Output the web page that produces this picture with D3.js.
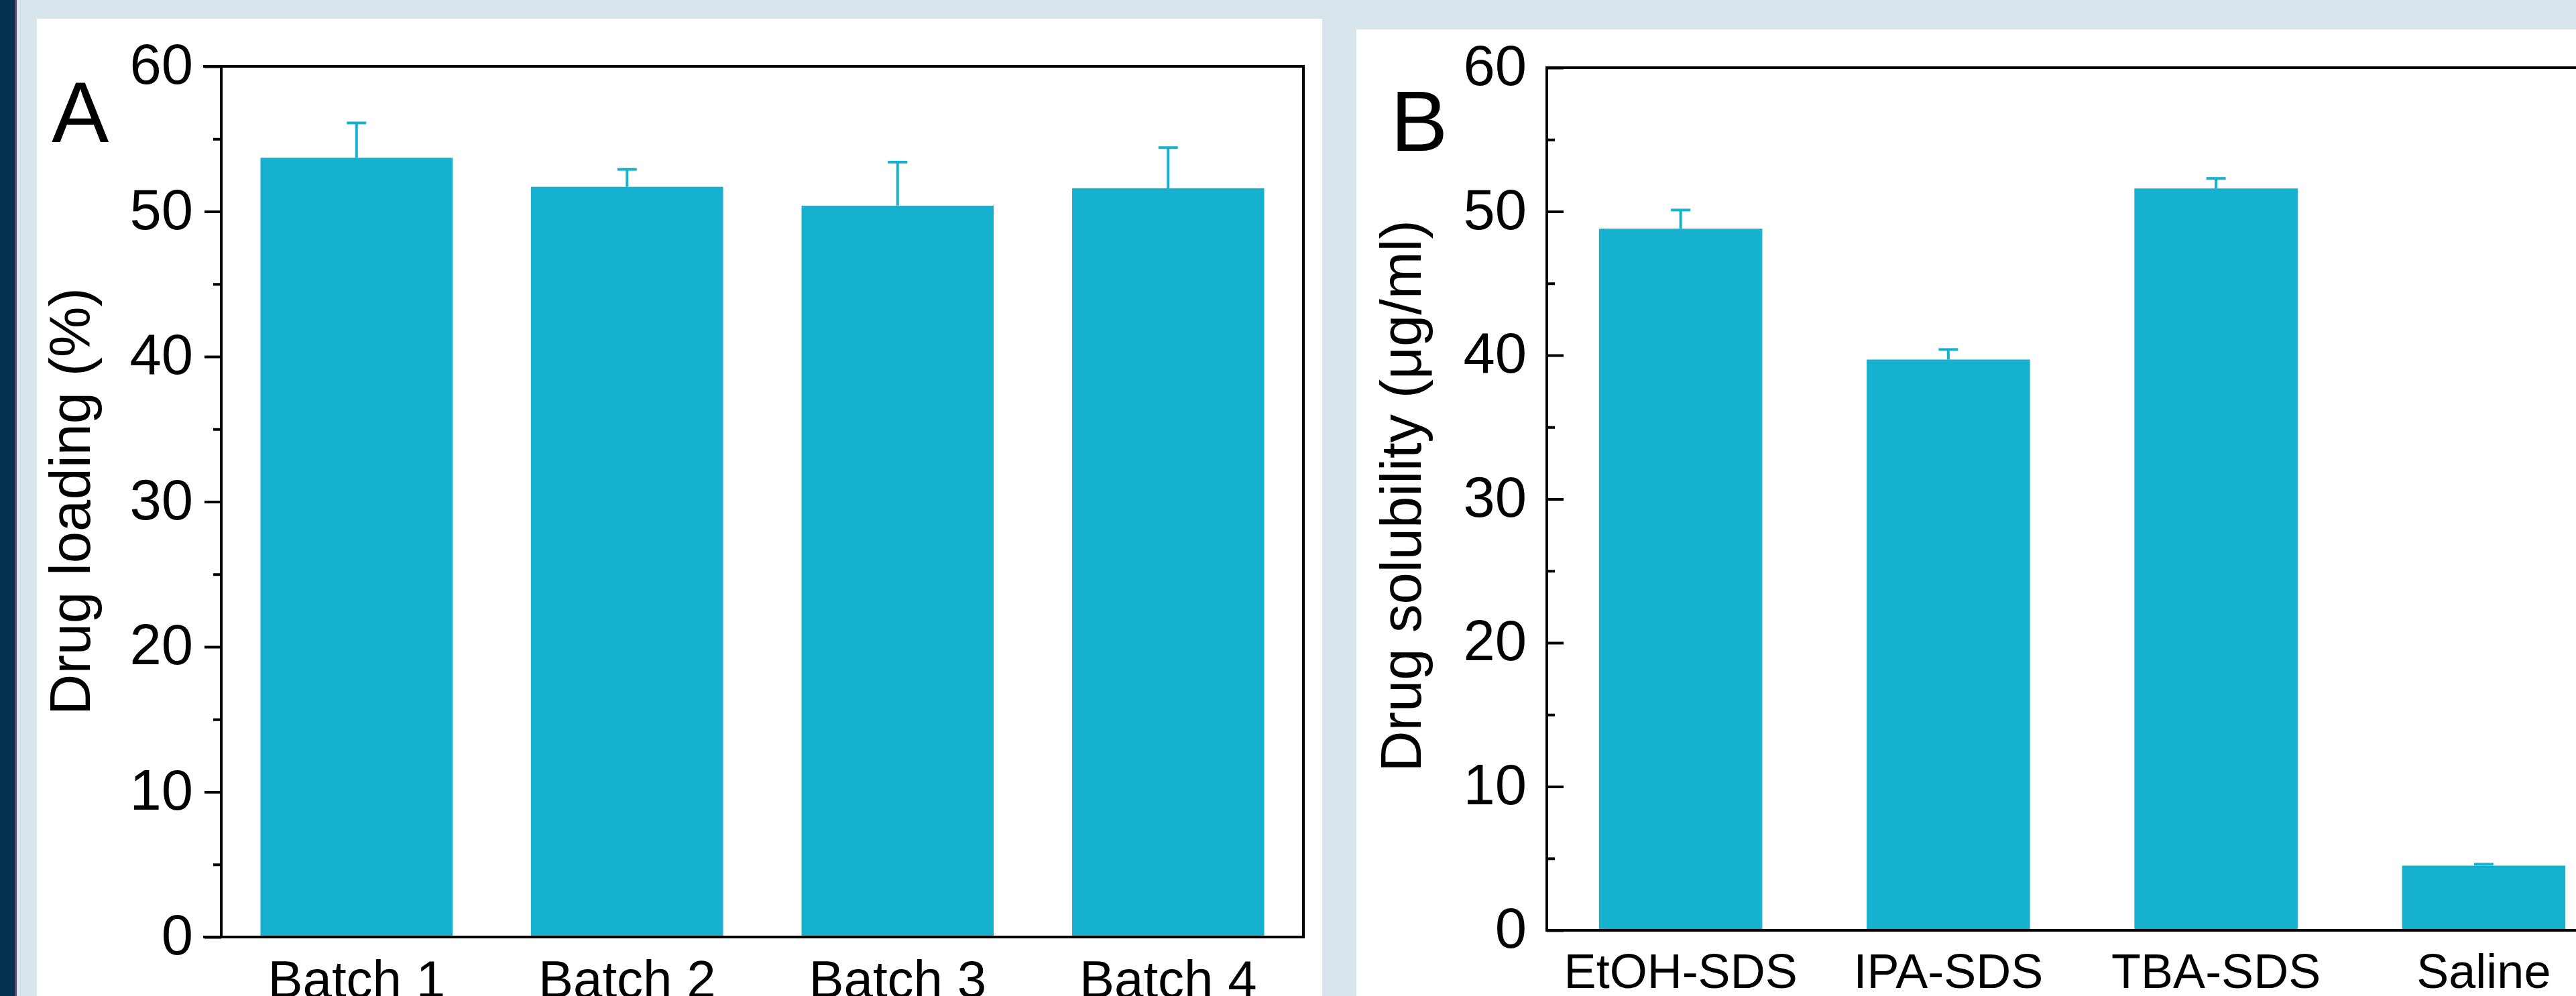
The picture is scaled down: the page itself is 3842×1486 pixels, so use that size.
<!DOCTYPE html>
<html>
<head>
<meta charset="utf-8">
<script src="https://cdn.jsdelivr.net/npm/d3@7"></script>
<style>
  html, body { margin: 0; padding: 0; background: #d9e5ec; overflow: hidden; }
  svg { display: block; }
  text { font-family: "Liberation Sans", Arial, sans-serif; fill: #000; }
</style>
</head>
<body>
<div id="container"></div>
<script>
var WIDTH = 3842,
    HEIGHT = 1486,
    BAR_COLOR = '#17b1d0';

// Panel A data
var batchLabels = ['Batch 1', 'Batch 2', 'Batch 3', 'Batch 4'];
var loadingMeans = [53.7, 51.7, 50.4, 51.6];
var loadingErrors = [2.4, 1.2, 3.0, 2.8];

// Panel B data
var solventLabels = ['EtOH-SDS', 'IPA-SDS', 'TBA-SDS', 'Saline'];
var solubilityMeans = [48.8, 39.7, 51.6, 4.5];
var solubilityErrors = [1.3, 0.7, 0.7, 0.1];

// Axis ticks (shared)
var majorTicks = [0, 10, 20, 30, 40, 50, 60];
var minorTicks = [5, 15, 25, 35, 45, 55];

var svg = d3.select('#container').append('svg')
    .attr('width', WIDTH)
    .attr('height', HEIGHT);

// page background pieces
svg.append('rect').attr('x', 0).attr('y', 0).attr('width', WIDTH).attr('height', HEIGHT).attr('fill', '#d9e5ec');
svg.append('rect').attr('x', 0).attr('y', 0).attr('width', 22).attr('height', HEIGHT).attr('fill', '#06304f');
svg.append('rect').attr('x', 22).attr('y', 0).attr('width', 3).attr('height', HEIGHT).attr('fill', '#5b4f78');
svg.append('rect').attr('x', 55).attr('y', 28).attr('width', 1917).attr('height', HEIGHT - 28).attr('fill', '#fff');
svg.append('rect').attr('x', 2023).attr('y', 44).attr('width', WIDTH - 2023).attr('height', HEIGHT - 44).attr('fill', '#fff');

function drawPanel(p) {
  var data = p.labels.map(function(d, i) {
    return {label: d, mean: p.means[i], err: p.errors[i]};
  });

  var x = d3.scaleBand()
      .domain(p.labels)
      .range([p.x0, p.x1])
      .paddingInner(p.pad)
      .paddingOuter(p.pad / 2);

  var y = d3.scaleLinear()
      .domain([0, 60])
      .range([p.yBottom, p.yTop]);

  var g = svg.append('g');

  // bars
  g.selectAll('rect.bar')
    .data(data)
    .enter()
    .append('rect')
      .attr('class', 'bar')
      .attr('x', function(d) { return x(d.label); })
      .attr('y', function(d) { return y(d.mean); })
      .attr('width', x.bandwidth())
      .attr('height', function(d) { return y(0) - y(d.mean); })
      .attr('fill', BAR_COLOR);

  // error bars (upper only)
  var eb = g.selectAll('g.err')
    .data(data)
    .enter()
    .append('g')
      .attr('class', 'err')
      .attr('transform', function(d) { return 'translate(' + (x(d.label) + x.bandwidth() / 2) + ',0)'; });
  eb.append('line')
      .attr('x1', 0).attr('x2', 0)
      .attr('y1', function(d) { return y(d.mean); })
      .attr('y2', function(d) { return y(d.mean + d.err); })
      .attr('stroke', BAR_COLOR)
      .attr('stroke-width', 4);
  eb.append('line')
      .attr('x1', -14.5).attr('x2', 14.5)
      .attr('y1', function(d) { return y(d.mean + d.err); })
      .attr('y2', function(d) { return y(d.mean + d.err); })
      .attr('stroke', BAR_COLOR)
      .attr('stroke-width', 4);

  // y axis: major + minor ticks
  var dir = p.inward ? -1 : 1;
  var yAxis = d3.axisLeft(y)
      .tickValues(majorTicks)
      .tickSize(25 * dir)
      .tickSizeOuter(0)
      .tickPadding(p.inward ? 30 : 17);
  var ya = g.append('g')
      .attr('transform', 'translate(' + p.x0 + ',0)')
      .call(yAxis);
  ya.select('.domain').remove();
  ya.selectAll('line').attr('stroke', '#000').attr('stroke-width', 4);
  ya.selectAll('text')
      .style('font-size', '85px')
      .attr('dy', '0.3em');

  var yMinor = d3.axisLeft(y)
      .tickValues(minorTicks)
      .tickSize(12 * dir)
      .tickSizeOuter(0)
      .tickFormat('');
  var ym = g.append('g')
      .attr('transform', 'translate(' + p.x0 + ',0)')
      .call(yMinor);
  ym.select('.domain').remove();
  ym.selectAll('line').attr('stroke', '#000').attr('stroke-width', 4);

  // x axis labels
  var xAxis = d3.axisBottom(x)
      .tickSize(0)
      .tickPadding(35);
  var xa = g.append('g')
      .attr('transform', 'translate(0,' + y(0) + ')')
      .call(xAxis);
  xa.select('.domain').remove();
  xa.selectAll('text').style('font-size', p.xFont + 'px');

  // frame
  var left = p.inward ? p.x0 : p.x0 - 25;
  var frame = d3.path();
  frame.moveTo(left, y(60));
  frame.lineTo(p.x1, y(60));
  frame.lineTo(p.x1, y(0));
  frame.lineTo(left, y(0));
  frame.moveTo(p.x0, y(60));
  frame.lineTo(p.x0, y(0));
  g.append('path')
      .attr('d', frame.toString())
      .attr('fill', 'none')
      .attr('stroke', '#000')
      .attr('stroke-width', 4)
      .attr('stroke-linecap', 'square');

  // axis title
  g.append('text')
      .attr('transform', 'translate(' + p.titleX + ',' + p.titleY + ') rotate(-90)')
      .attr('text-anchor', 'middle')
      .style('font-size', '85px')
      .text(p.title);

  // panel letter
  g.append('text')
      .attr('x', p.letterX)
      .attr('y', p.letterY)
      .style('font-size', '128px')
      .text(p.letter);
}

drawPanel({
  labels: batchLabels, means: loadingMeans, errors: loadingErrors,
  x0: 330, x1: 1944, yTop: 99, yBottom: 1398, pad: 0.29,
  inward: false, xFont: 78,
  title: 'Drug loading (%)', titleX: 134, titleY: 748,
  letter: 'A', letterX: 77, letterY: 212
});

drawPanel({
  labels: solventLabels, means: solubilityMeans, errors: solubilityErrors,
  x0: 2307, x1: 3904, yTop: 101, yBottom: 1388, pad: 0.39,
  inward: true, xFont: 72,
  title: 'Drug solubility (\u03bcg/ml)', titleX: 2119, titleY: 740,
  letter: 'B', letterX: 2074, letterY: 225
});
</script>
</body>
</html>
